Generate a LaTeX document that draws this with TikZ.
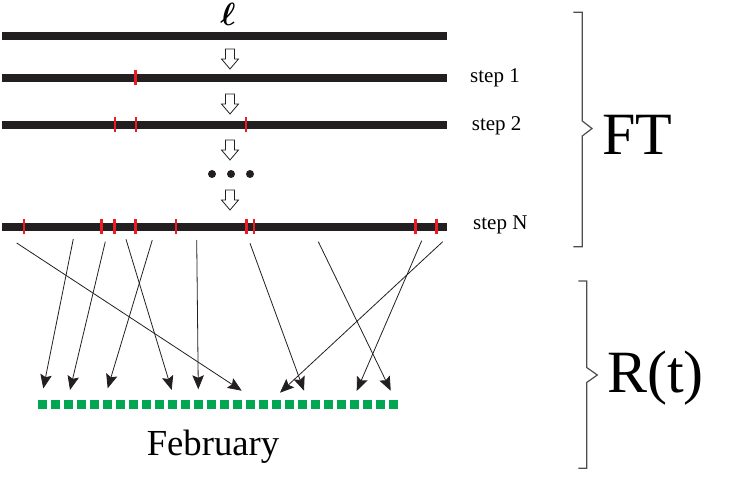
\documentclass[tikz,border=0pt]{standalone}
\usepackage{amsmath,bm}
\usepackage{fontspec}
\setmainfont{Liberation Serif}
\usetikzlibrary{arrows.meta}
\definecolor{barc}{HTML}{231F20}
\definecolor{tickc}{HTML}{ED1C24}
\definecolor{sqc}{HTML}{00A651}
\definecolor{bracec}{HTML}{4D4D4D}
\tikzset{
  bar/.style={line width=8pt, barc},
  redtick/.style={line width=2.6pt, tickc},
  arr/.style={line width=0.8pt, barc, -{Stealth[length=14pt,width=11.5pt,inset=2.5pt]}},
  hollow/.style={draw=barc, line width=0.8pt, fill=white},
  sq/.style={fill=sqc, draw=none},
  bracestyle/.style={bracec, line width=1.2pt},
  steplabel/.style={font=\fontsize{21}{21}\selectfont, anchor=base west, inner sep=0pt},
  biglabel/.style={font=\fontsize{60}{60}\selectfont, anchor=west, inner sep=0pt}
}
\begin{document}
\begin{tikzpicture}[x=1pt,y=-1pt]
\useasboundingbox (0,0) rectangle (750,478);
% bars
\foreach \n/\y in {b0/36.5, b1/78, b2/125, bN/227}{
  \draw[bar] (2,\y) -- (447,\y);
}
% red ticks
\foreach \x in {135.7}{\draw[redtick] (\x,70.5) -- (\x,85.5);}
\foreach \x in {115,136,246}{\draw[redtick] (\x,117.5) -- (\x,132.5);}
\foreach \x in {24,101.7,114.7,135.7,176,246.7,254,415.7,436.7}{\draw[redtick] (\x,219.5) -- (\x,234.5);}
% ell
\node[inner sep=0pt, scale=1.55, font=\fontsize{20}{20}\selectfont, anchor=base] (ell) at (228,26) {$\bm{\ell}$};
% hollow arrows
\foreach \t in {49,94,140,190}{
  \draw[hollow] (225.5,\t) -- (234.5,\t) -- (234.5,\t+10) -- (238.5,\t+10) -- (230,\t+20) -- (221.5,\t+10) -- (225.5,\t+10) -- cycle;
}
% dots
\foreach \x in {212,231,250}{\fill[barc] (\x,174) circle (4);}
% step labels
\node[steplabel] (s1) at (470,82.3) {step 1};
\node[steplabel] (s2) at (471.7,130.7) {step 2};
\node[steplabel] (sN) at (473,230) {step N};
% green squares
\foreach \i in {0,...,27}{
  \fill[sq] (38.3+13*\i,400) rectangle ++(9,9);
}
\node[inner sep=0pt, anchor=base, font=\fontsize{36.7}{36.7}\selectfont] (feb) at (213,455) {February};
% arrows
\coordinate (a1) at (16.7,243);   \coordinate (e1) at (241.7,390.7);
\coordinate (a2) at (73.3,239);   \coordinate (e2) at (43.3,388.5);
\coordinate (a3) at (105.3,241.7);\coordinate (e3) at (70,390);
\coordinate (a4) at (126,239.3);  \coordinate (e4) at (171.7,390);
\coordinate (a5) at (152.3,240);  \coordinate (e5) at (107.7,388.3);
\coordinate (a6) at (196.7,240);  \coordinate (e6) at (198.3,389.3);
\coordinate (a7) at (250,243.3);  \coordinate (e7) at (304,390.7);
\coordinate (a8) at (318.3,241.7);\coordinate (e8) at (390.7,390.7);
\coordinate (a9) at (421.7,240.7);\coordinate (e9) at (356.7,391);
\coordinate (a10) at (442.7,241.7);\coordinate (e10) at (280,392.7);
\foreach \k in {1,...,10}{\draw[arr] (a\k) -- (e\k);}
% braces
\draw[bracestyle] (573.3,12.3) -- (582.3,12.3) -- (582.3,121) -- (592,128.5) -- (582.3,136) -- (582.3,246.7) -- (573.3,246.7);
\draw[bracestyle] (578.3,281) -- (586.7,281) -- (586.7,367.5) -- (597.3,375) -- (586.7,382.5) -- (586.7,468.3) -- (578.3,468.3);
\node[biglabel] (ft) at (602,135) {FT};
\node[biglabel] (rt) at (607,378) {R(t)};
\end{tikzpicture}
\end{document}
